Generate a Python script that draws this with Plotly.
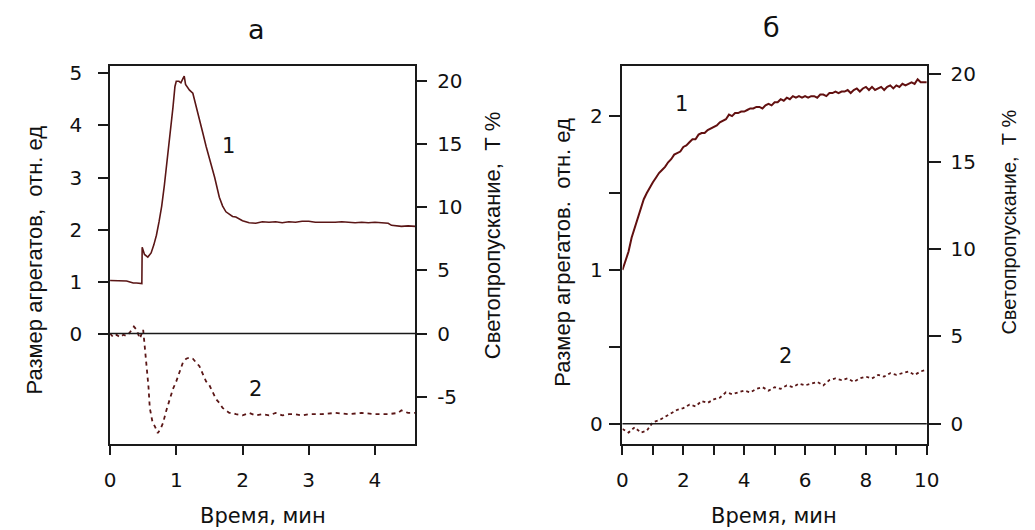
import plotly.graph_objects as go

# ---------------- data ----------------
# Panel a, curve 1: aggregate size (left axis)
a1_t = [0, 0.05, 0.10, 0.15, 0.20, 0.25, 0.30, 0.35, 0.40, 0.45, 0.48, 0.485, 0.52, 0.57,
        0.62, 0.66, 0.70, 0.74, 0.78, 0.82, 0.86, 0.88, 0.92, 0.95, 0.98, 1.00, 1.04, 1.07,
        1.10, 1.12, 1.14, 1.17, 1.20, 1.25, 1.30, 1.35, 1.40, 1.45, 1.52, 1.58, 1.65,
        1.70, 1.75, 1.80, 1.85, 1.90, 1.95, 2.00, 2.10, 2.20, 2.30, 2.40, 2.50, 2.60,
        2.70, 2.80, 2.90, 3.00, 3.10, 3.20, 3.30, 3.40, 3.50, 3.60, 3.70, 3.80, 3.90,
        4.00, 4.10, 4.20, 4.25, 4.30, 4.40, 4.50, 4.61]
a1_v = [1.02, 1.02, 1.02, 1.02, 1.01, 1.01, 0.99, 0.97, 0.97, 0.96, 0.96, 1.66, 1.52, 1.47,
        1.55, 1.70, 1.89, 2.15, 2.45, 2.85, 3.30, 3.47, 3.95, 4.35, 4.75, 4.85, 4.85, 4.82,
        4.90, 4.95, 4.79, 4.72, 4.68, 4.62, 4.38, 4.11, 3.86, 3.60, 3.28, 3.00, 2.62,
        2.45, 2.34, 2.29, 2.25, 2.24, 2.20, 2.17, 2.13, 2.12, 2.15, 2.14, 2.15, 2.13,
        2.15, 2.14, 2.16, 2.16, 2.14, 2.14, 2.13, 2.14, 2.15, 2.14, 2.13, 2.14, 2.13,
        2.14, 2.13, 2.12, 2.08, 2.07, 2.06, 2.07, 2.06]

# Panel a, curve 2: light transmission (right axis)
a2_t = [0, 0.05, 0.10, 0.15, 0.20, 0.25, 0.30, 0.36, 0.40, 0.45, 0.50, 0.52, 0.55, 0.58,
        0.60, 0.64, 0.68, 0.72, 0.76, 0.80, 0.85, 0.90, 0.95, 1.00, 1.05, 1.10, 1.15,
        1.20, 1.25, 1.30, 1.35, 1.40, 1.45, 1.50, 1.55, 1.60, 1.65, 1.70, 1.75, 1.80,
        1.85, 1.90, 2.00, 2.10, 2.20, 2.30, 2.40, 2.50, 2.60, 2.70, 2.80, 2.90, 3.00,
        3.20, 3.40, 3.60, 3.80, 4.00, 4.20, 4.35, 4.40, 4.50, 4.61]
a2_v = [0.0, -0.3, -0.1, -0.3, -0.1, -0.2, 0.1, 0.55, 0.3, -0.4, 0.3, -0.8, -2.0, -4.2,
        -5.9, -7.0, -7.4, -7.9, -7.6, -7.1, -6.1, -5.3, -4.4, -3.8, -3.0, -2.3, -2.0,
        -1.9, -2.0, -2.3, -2.6, -3.2, -3.8, -4.1, -4.7, -5.2, -5.5, -5.9, -6.1, -6.3,
        -6.3, -6.4, -6.5, -6.3, -6.5, -6.4, -6.5, -6.3, -6.5, -6.4, -6.4, -6.5, -6.4,
        -6.4, -6.3, -6.4, -6.3, -6.4, -6.4, -6.3, -6.1, -6.3, -6.3]

# Panel b, curve 1: aggregate size (left axis)
b1_t = [round(0.1 * i, 1) for i in range(101)]
b1_v = [1.00, 1.06, 1.12, 1.21, 1.27, 1.34, 1.40, 1.46, 1.50, 1.54,
        1.57, 1.60, 1.63, 1.65, 1.67, 1.70, 1.72, 1.75, 1.76, 1.77,
        1.80, 1.81, 1.83, 1.85, 1.85, 1.88, 1.89, 1.89, 1.91, 1.92,
        1.93, 1.94, 1.96, 1.97, 1.98, 2.01, 2.00, 2.02, 2.02, 2.03,
        2.03, 2.04, 2.05, 2.05, 2.06, 2.06, 2.05, 2.07, 2.08, 2.07,
        2.09, 2.09, 2.11, 2.10, 2.12, 2.11, 2.13, 2.12, 2.13, 2.12,
        2.13, 2.12, 2.13, 2.13, 2.12, 2.14, 2.14, 2.13, 2.15, 2.15,
        2.16, 2.15, 2.16, 2.16, 2.17, 2.15, 2.17, 2.18, 2.16, 2.18,
        2.19, 2.17, 2.19, 2.17, 2.18, 2.19, 2.17, 2.19, 2.20, 2.18,
        2.20, 2.19, 2.21, 2.20, 2.21, 2.22, 2.21, 2.24, 2.22, 2.22,
        2.22]

# Panel b, curve 2: light transmission (right axis)
b2_t = [round(0.2 * i, 1) for i in range(51)]
b2_v = [-0.3, -0.5, -0.2, -0.5, -0.4, 0.1, 0.2, 0.4, 0.6, 0.8,
        0.9, 1.1, 1.0, 1.3, 1.2, 1.4, 1.5, 1.8, 1.7, 1.8,
        1.9, 1.8, 2.0, 2.1, 1.9, 2.1, 2.0, 2.2, 2.1, 2.3,
        2.2, 2.3, 2.4, 2.2, 2.5, 2.6, 2.5, 2.6, 2.4, 2.6,
        2.7, 2.6, 2.8, 2.7, 2.9, 2.8, 2.9, 3.0, 2.8, 3.0,
        3.1]

a_x_ticks = [0, 1, 2, 3, 4]
a_yl_ticks = [0, 1, 2, 3, 4, 5]
a_yr_ticks = [-5, 0, 5, 10, 15, 20]
a_yr_text = ["-5", "0", "5", "10", "15", "20"]
b_x_ticks = list(range(11))
b_x_text = ["0", "", "2", "", "4", "", "6", "", "8", "", "10"]
b_yl_ticks = [0, 0.5, 1, 1.5, 2]
b_yl_text = ["0", "", "1", "", "2"]
b_yr_ticks = [0, 5, 10, 15, 20]

# ---------------- figure ----------------
W, H = 1035, 530
FONT = "Liberation Sans, Arial, sans-serif"
WIDE = "DejaVu Sans, sans-serif"
INK = "#1a1a1a"
CURVE = "#5a1616"


def px_x(p):
    return p / W


def px_y(p):
    return 1 - p / H


fig = go.Figure()
fig.add_trace(go.Scatter(x=a1_t, y=a1_v, mode="lines", xaxis="x", yaxis="y",
                         line=dict(color=CURVE, width=1.6), showlegend=False))
fig.add_trace(go.Scatter(x=a2_t, y=a2_v, mode="lines", xaxis="x", yaxis="y2",
                         line=dict(color=CURVE, width=1.8, dash="4px,4px"), showlegend=False))
fig.add_trace(go.Scatter(x=b1_t, y=b1_v, mode="lines", xaxis="x2", yaxis="y3",
                         line=dict(color="#621010", width=2.0), showlegend=False))
fig.add_trace(go.Scatter(x=b2_t, y=b2_v, mode="lines", xaxis="x2", yaxis="y4",
                         line=dict(color=CURVE, width=1.8, dash="3px,3px"), showlegend=False))

tickfont = dict(family=WIDE, size=20, color="#111")
common = dict(showline=True, linecolor=INK, linewidth=1.6, ticks="outside",
              tickcolor=INK, tickwidth=1.6, showgrid=False, zeroline=False,
              tickfont=tickfont, fixedrange=True)

a_dom_x = [px_x(106), px_x(417)]
b_dom_x = [px_x(628), px_x(938)]
dom_y = [px_y(443), px_y(62)]

a_yl = [-2.118, 5.153]
ka = 4.126
b_yl = [-0.129, 2.329]
kb = 8.807

fig.update_layout(
    width=W, height=H,
    margin=dict(l=0, r=0, t=0, b=0),
    paper_bgcolor="white", plot_bgcolor="white",
    xaxis=dict(domain=a_dom_x, range=[0, 4.61], anchor="y", tickvals=a_x_ticks,
               ticklen=10, mirror=True, ticklabelstandoff=8, **common),
    yaxis=dict(domain=dom_y, range=a_yl, anchor="x", tickvals=a_yl_ticks,
               ticklen=10, ticklabelstandoff=12, **common),
    yaxis2=dict(range=[a_yl[0] * ka, a_yl[1] * ka], overlaying="y", anchor="x",
                side="right", tickvals=a_yr_ticks, ticktext=a_yr_text, ticklen=10,
                ticklabelstandoff=6, **common),
    xaxis2=dict(domain=b_dom_x, range=[0, 10], anchor="y3", tickvals=b_x_ticks,
                ticktext=b_x_text, ticklen=10, mirror=True, ticklabelstandoff=8, **common),
    yaxis3=dict(domain=dom_y, range=b_yl, anchor="x2", tickvals=b_yl_ticks,
                ticktext=b_yl_text, ticklen=12, ticklabelstandoff=2, **common),
    yaxis4=dict(range=[b_yl[0] * kb, b_yl[1] * kb], overlaying="y3", anchor="x2",
                side="right", tickvals=b_yr_ticks, ticklen=12, ticklabelstandoff=6, **common),
)

# zero lines
fig.add_shape(type="line", xref="x domain", yref="y", x0=0, x1=1, y0=0, y1=0,
              line=dict(color=INK, width=1.6))
fig.add_shape(type="line", xref="x2 domain", yref="y3", x0=0, x1=1, y0=0, y1=0,
              line=dict(color=INK, width=1.6))

txt = dict(family=FONT, size=22, color="#111")
wtxt = dict(family=WIDE, size=21, color="#111")
ann = [
    dict(text="а", x=px_x(255), y=px_y(26), font=dict(family=WIDE, size=27, color="#111")),
    dict(text="б", x=px_x(780), y=px_y(24), font=dict(family=WIDE, size=27, color="#111")),
    dict(text="Время, мин", x=px_x(262), y=px_y(516), font=wtxt),
    dict(text="Время, мин", x=px_x(782), y=px_y(516), font=wtxt),
    dict(text="Размер агрегатов,  отн. ед", x=px_x(29), y=px_y(258), textangle=-90, font=txt),
    dict(text="Светопропускание,  Т %", x=px_x(495), y=px_y(233), textangle=-90, font=txt),
    dict(text="Размер агрегатов.  отн. ед", x=px_x(567), y=px_y(250), textangle=-90, font=txt),
    dict(text="Светопропускание,  Т %", x=px_x(1022), y=px_y(220), textangle=-90,
         font=dict(family=FONT, size=20, color="#111")),
]
for a in ann:
    a.update(xref="paper", yref="paper", showarrow=False, xanchor="center", yanchor="middle")
    fig.add_annotation(**a)

curve_font = dict(family=WIDE, size=21, color="#111")
fig.add_annotation(text="1", x=1.79, y=3.6, xref="x", yref="y", showarrow=False, font=curve_font)
fig.add_annotation(text="2", x=2.19, y=-1.07, xref="x", yref="y", showarrow=False, font=curve_font)
fig.add_annotation(text="1", x=1.94, y=2.08, xref="x2", yref="y3", showarrow=False, font=curve_font)
fig.add_annotation(text="2", x=5.35, y=0.44, xref="x2", yref="y3", showarrow=False, font=curve_font)

fig.write_html("out.html", config={"displayModeBar": False},
               post_script="document.body.style.margin='0';document.body.style.padding='0';")
